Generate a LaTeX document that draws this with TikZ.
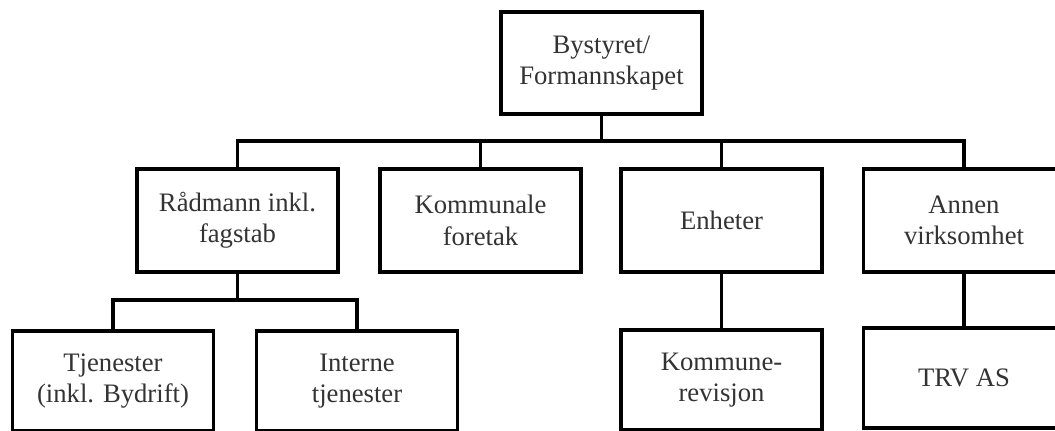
\documentclass[tikz,border=0pt]{standalone}
\usepackage{fontspec}
\setmainfont{Liberation Serif}
\begin{document}
\begin{tikzpicture}[x=0.75pt,y=-0.75pt,
  orgbox/.style={draw=black, line width=2.3pt, fill=white, inner sep=0pt,
    minimum width=150.75pt, minimum height=76.5pt, align=center,
    text=black!80, font=\fontsize{20}{23.5}\selectfont},
  orglink/.style={line width=2.4pt, line join=miter, line cap=rect}]
\useasboundingbox (0,0) rectangle (1055,430);
\clip (0,0) rectangle (1055,430);
\fill[white] (0,0) rectangle (1055,430);
\coordinate (barA) at (0,141);
\coordinate (barB) at (0,300);
\node[orgbox] (top) at (601.5,63) {Bystyret/\\Formannskapet};
\node[orgbox, minimum height=77.25pt] (rad) at (237.5,220.5) {Rådmann inkl.\\fagstab};
\node[orgbox, minimum height=77.25pt] (kf) at (480.5,220.5) {Kommunale\\foretak};
\node[orgbox, minimum height=77.25pt] (enh) at (721.5,220.5) {Enheter};
\node[orgbox, minimum height=77.25pt] (ann) at (964,220.5) {Annen\\virksomhet};
\node[orgbox, minimum height=75pt] (tj) at (113,381) {Tjenester\\(inkl. Bydrift)};
\node[orgbox, minimum height=75pt] (int) at (357,381) {Interne\\tjenester};
\node[orgbox, minimum height=75pt] (kr) at (721.5,380) {Kommune-\\revisjon};
\node[orgbox, minimum height=75pt] (trv) at (964,378) {TRV AS};
\draw[orglink] (top.south) -- (top.south |- barA);
\draw[orglink] (rad.north) -- (rad.north |- barA) -- (ann.north |- barA) -- (ann.north);
\draw[orglink] (kf.north) -- (kf.north |- barA);
\draw[orglink] (enh.north) -- (enh.north |- barA);
\draw[orglink] (rad.south) -- (rad.south |- barB);
\draw[orglink] (tj.north) -- (tj.north |- barB) -- (int.north |- barB) -- (int.north);
\draw[orglink] (enh.south) -- (kr.north);
\draw[orglink] (ann.south) -- (trv.north);
\end{tikzpicture}
\end{document}
